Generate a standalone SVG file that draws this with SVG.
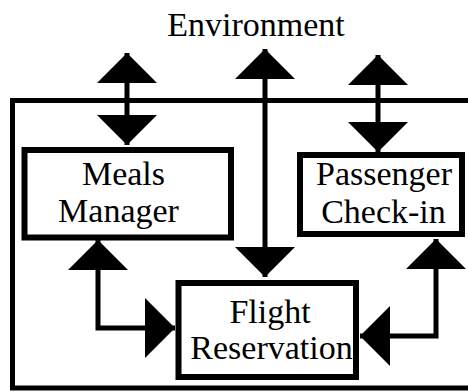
<svg xmlns="http://www.w3.org/2000/svg" width="468" height="392" viewBox="0 0 468 392">
  <style>
    .box { fill: #ffffff; stroke: #000000; stroke-width: 6; }
    .frame { fill: none; stroke: #000000; stroke-width: 5; }
    .link { fill: none; stroke: #000000; stroke-width: 5; stroke-linejoin: miter; }
    .label { font-family: "Liberation Serif", "Times New Roman", serif; font-size: 34px; fill: #000000; text-anchor: middle; }
  </style>
  <defs>
    <marker id="head" viewBox="0 0 30 60" markerWidth="30" markerHeight="60" refX="30" refY="30" markerUnits="userSpaceOnUse" orient="auto-start-reverse">
      <path d="M0,0 L30,30 L0,60 Z" fill="#000000"/>
    </marker>
  </defs>

  <rect width="468" height="392" fill="#ffffff"/>

  <!-- system boundary -->
  <rect id="system" class="frame" x="12.5" y="100.5" width="480" height="287.5"/>
  <text id="environment" class="label" x="256" y="36">Environment</text>

  <g id="connectors">
    <path class="link" d="M127,53 L127,145" marker-start="url(#head)" marker-end="url(#head)"/>
    <path class="link" d="M265,49 L265,277" marker-start="url(#head)" marker-end="url(#head)"/>
    <path class="link" d="M378,55 L378,152" marker-start="url(#head)" marker-end="url(#head)"/>
    <path class="link" d="M98,240 L98,328 L175,328" marker-start="url(#head)" marker-end="url(#head)"/>
    <path class="link" d="M436,239 L436,336 L360,336" marker-start="url(#head)" marker-end="url(#head)"/>
  </g>

  <g id="meals-manager">
    <rect class="box" x="24.5" y="150" width="206.5" height="87.5"/>
    <text class="label" x="123.5" y="185">Meals</text>
    <text class="label" x="118.5" y="222">Manager</text>
  </g>

  <g id="passenger-check-in">
    <rect class="box" x="300" y="155" width="162" height="79"/>
    <text class="label" x="384" y="185">Passenger</text>
    <text class="label" x="383.5" y="223">Check-in</text>
  </g>

  <g id="flight-reservation">
    <rect class="box" x="178.5" y="283" width="177.5" height="94"/>
    <text class="label" x="270" y="323">Flight</text>
    <text class="label" x="271.5" y="359">Reservation</text>
  </g>
</svg>
